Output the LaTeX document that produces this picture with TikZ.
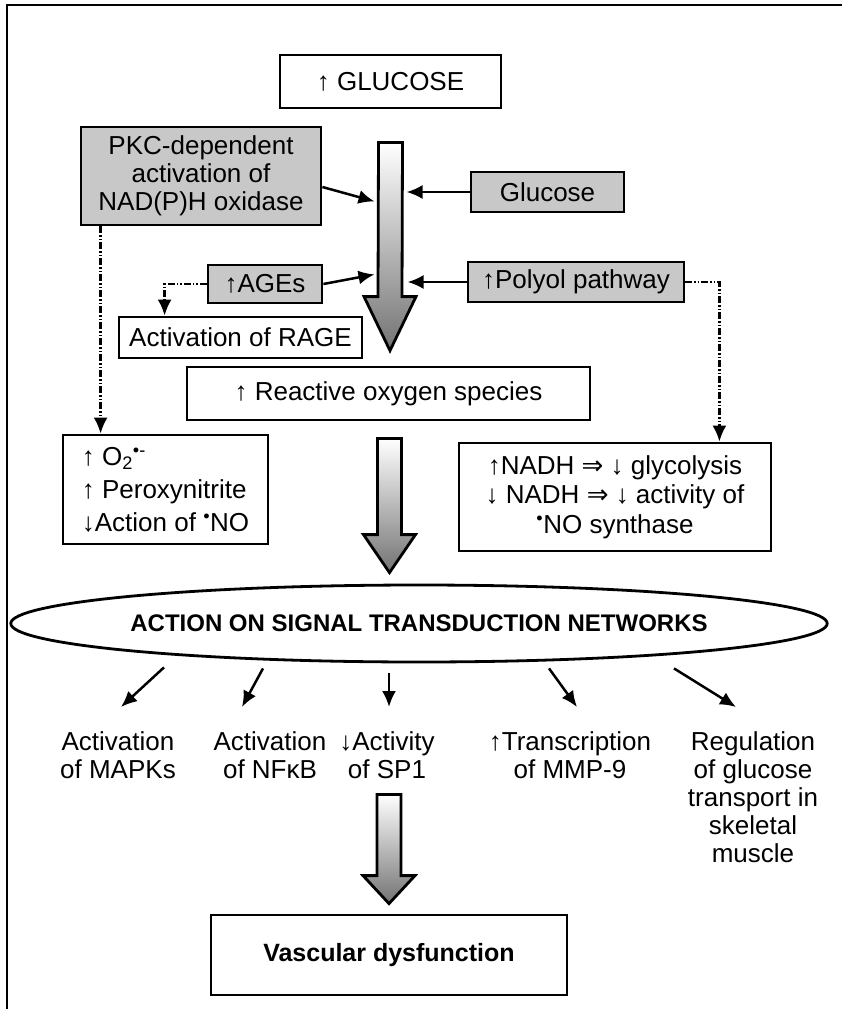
\documentclass[tikz,border=0pt]{standalone}
\usepackage{fontspec}
\setmainfont{Liberation Sans}
\newfontfamily\arrowfont{DejaVu Sans}
\usetikzlibrary{arrows.meta,calc,shapes.geometric}
\definecolor{boxgrey}{RGB}{200,200,200}
\newcommand{\imp}{{\arrowfont ⇒}}
\newcommand{\rad}{\textsuperscript{•}}
% shaded block arrow: top point, tip point, head length
\newcommand{\fatdown}[3]{%
  \draw[fat] ($(#1)+(-12,0)$) -- ($(#1)+(12,0)$) -- ($(#2)+(12,-#3)$)
    -- ($(#2)+(26,-#3)$) -- (#2) -- ($(#2)+(-26,-#3)$)
    -- ($(#2)+(-12,-#3)$) -- cycle;}

\begin{document}
\begin{tikzpicture}[
    x=1pt, y=-1pt,
    >={Latex[length=16pt,width=14pt]},
    every node/.style={font=\fontsize{26}{28}\selectfont, inner sep=0pt},
    box/.style={draw, line width=2.8pt, fill=white, align=center},
    greybox/.style={box, fill=boxgrey},
    tag/.style={align=center, anchor=north},
    link/.style={->, line width=2.5pt},
    dashlink/.style={->, line width=2.5pt,
        dash pattern=on 7pt off 2pt on 1.5pt off 2pt on 1.5pt off 2pt},
    fat/.style={draw, line width=2.8pt, line join=miter,
        top color=white, bottom color=black!55}]

    \useasboundingbox (0,0) rectangle (842,1009);
    \draw[line width=2pt] (7,1009) -- (7,5) -- (842,5);

    \node[box, minimum width=221pt, minimum height=53pt] (up) at (390.5,81.5) {↑ GLUCOSE};
    \node[greybox, minimum width=240pt, minimum height=98pt] (pkc) at (201,176)
        {PKC-dependent\\activation of\\NAD(P)H oxidase};
    \node[greybox, minimum width=153pt, minimum height=40pt] (glc) at (547.5,192) {Glucose};
    \node[greybox, minimum width=114pt, minimum height=38pt] (age) at (265,284) {↑AGEs};
    \node[greybox, minimum width=216pt, minimum height=40pt] (pol) at (576,282) {↑Polyol pathway};
    \node[box, minimum width=243pt, minimum height=41pt] (rage) at (240.5,337.5) {Activation of RAGE};
    \node[box, minimum width=403pt, minimum height=53pt] (ros) at (388.5,393.5) {↑ Reactive oxygen species};

    \node[box, align=left, minimum width=205pt, minimum height=109pt,
          font=\fontsize{26}{33}\selectfont] (oxy) at (165.5,489.5)
        {↑ O\textsubscript{2}\textsuperscript{•-}\\↑ Peroxynitrite\\↓Action of \rad NO};
    \node[box, minimum width=312pt, minimum height=108pt,
          font=\fontsize{26}{29.5}\selectfont] (nadh) at (615,497)
        {↑NADH \imp\ ↓ glycolysis\\↓ NADH \imp\ ↓ activity of\\\rad NO synthase};

    \node[draw, ellipse, line width=2.8pt, minimum width=714pt, minimum height=77pt,
          font=\bfseries\fontsize{24}{26}\selectfont] (net) at (419,623.5)
        {ACTION ON SIGNAL TRANSDUCTION NETWORKS};

    \node[tag] (mapk) at (118,731) {Activation\\of MAPKs};
    \node[tag] (nfkb) at (270,731) {Activation\\of NFκB};
    \node[tag] (sp1) at (387,731) {↓Activity\\of SP1};
    \node[tag] (mmp) at (570,731) {↑Transcription\\of MMP-9};
    \node[tag] (glut) at (753,731) {Regulation\\of glucose\\transport in\\skeletal\\muscle};

    \node[box, minimum width=356pt, minimum height=80pt,
          font=\bfseries\fontsize{25}{28}\selectfont] (vasc) at (389,955) {Vascular dysfunction};

    % block arrows
    \coordinate (f1a) at ($(up.south)+(0,33)$);
    \coordinate (f1b) at ($(ros.north)+(1.5,-15)$);
    \fatdown{f1a}{f1b}{54}
    \coordinate (f2a) at ($(ros.south)+(1,17)$);
    \coordinate (f2b) at ($(ros.south |- net.north)+(1,-11)$);
    \fatdown{f2a}{f2b}{38}
    \coordinate (f3a) at ($(sp1.south -| vasc.north)+(0,16)$);
    \coordinate (f3b) at ($(vasc.north)+(0,-10)$);
    \fatdown{f3a}{f3b}{28}

    % inputs to the first block arrow
    \coordinate (in1) at ($(f1a)+(-16,59)$);
    \coordinate (in2) at ($(f1a)+(16,54)$);
    \coordinate (in3) at ($(f1a)+(-16,132)$);
    \coordinate (in4) at ($(f1a)+(17,141)$);
    \draw[link] ($(pkc.east)+(0,11)$) -- (in1);
    \draw[link] (glc.west) -- (glc.west -| in2);
    \draw[link] (age.east) -- (in3);
    \draw[link] (pol.west) -- (pol.west -| in4);

    % side effects
    \draw[dashlink] (age.west) -| ($(rage.north west)+(47,0)$);
    \draw[dashlink] (pol.east) -| ($(nadh.north east)+(-53,0)$);
    \draw[dashlink] ($(pkc.south west)+(21,0)$) coordinate (d1) -- (d1 |- oxy.north);

    % signal transduction targets
    \draw[link] ($(net.south)+(-255,4)$) -- ($(mapk.north)+(3,-24)$);
    \draw[link] ($(net.south)+(-156,5)$) -- ($(nfkb.north)+(-28,-24)$);
    \draw[link] ($(net.south)+(-30,10)$) -- ($(sp1.north)+(2,-24)$);
    \draw[link] ($(net.south)+(130,5)$) -- ($(mmp.north)+(7,-24)$);
    \draw[link] ($(net.south)+(255,5)$) -- ($(glut.north)+(-17,-24)$);

\end{tikzpicture}
\end{document}
